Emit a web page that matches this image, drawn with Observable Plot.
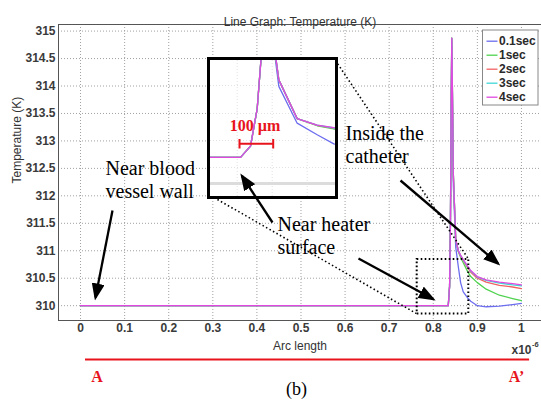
<!DOCTYPE html>
<html><head><meta charset="utf-8">
<script src="https://cdn.jsdelivr.net/npm/d3@7"></script>
<script src="https://cdn.jsdelivr.net/npm/@observablehq/plot@0.6"></script>
<style>
html,body{margin:0;padding:0;background:#fff;}
#wrap{position:relative;width:541px;height:403px;overflow:hidden;background:#fff;}
#wrap svg{display:block;}
#main{position:absolute;left:0;top:0;}
#inset{position:absolute;left:207px;top:57px;width:125px;height:136px;border:3px solid #000;background:#fff;overflow:hidden;}
#toplayer{position:absolute;left:0;top:0;pointer-events:none;}
</style></head><body>
<div id="wrap"><div id="main"></div><div id="inset"></div><div id="toplayer"></div></div>
<script>
// ---------------- data ----------------
const seriesNames = ["0.1sec", "1sec", "2sec", "3sec", "4sec"];
const seriesColors = ["#6c6cf0", "#4fd24f", "#f06262", "#3fd6d6", "#e048e0"];
const arcLength = [0, 0.834, 0.837, 0.839, 0.8405, 0.842, 0.8435, 0.8455, 0.851, 0.857, 0.862, 0.868, 0.878, 0.885, 0.9, 0.92, 0.95, 0.98, 1.0];
const temp01 = [310, 310, 310.35, 311.5, 313.5, 314.8, 313.8, 312.2, 311.06, 310.7, 310.42, 310.25, 310.14, 310.08, 310.0, 309.98, 309.99, 310.02, 310.04];
const temp1  = [310, 310, 310.35, 311.5, 313.5, 314.87, 313.9, 312.4, 311.2, 310.98, 310.88, 310.78, 310.62, 310.53, 310.42, 310.3, 310.19, 310.13, 310.09];
const temp2  = [310, 310, 310.35, 311.5, 313.5, 314.87, 313.9, 312.4, 311.2, 310.99, 310.9, 310.82, 310.69, 310.61, 310.5, 310.43, 310.37, 310.34, 310.31];
const temp3  = [310, 310, 310.35, 311.5, 313.5, 314.87, 313.9, 312.4, 311.2, 311.0, 310.91, 310.83, 310.71, 310.63, 310.52, 310.46, 310.41, 310.38, 310.36];
const temp4  = [310, 310, 310.35, 311.5, 313.5, 314.87, 313.9, 312.4, 311.2, 311.0, 310.92, 310.84, 310.72, 310.64, 310.53, 310.47, 310.43, 310.40, 310.38];
const xTicks = [0, 0.1, 0.2, 0.3, 0.4, 0.5, 0.6, 0.7, 0.8, 0.9, 1];
const xTickLabels = ["0", "0.1", "0.2", "0.3", "0.4", "0.5", "0.6", "0.7", "0.8", "0.9", "1"];
const yTicks = [310, 310.5, 311, 311.5, 312, 312.5, 313, 313.5, 314, 314.5, 315];
const yTickLabels = ["310", "310.5", "311", "311.5", "312", "312.5", "313", "313.5", "314", "314.5", "315"];
const titleText = "Line Graph: Temperature (K)";
const xLabel = "Arc length";
const yLabel = "Temperature (K)";
const noteTexts = ["Near blood\nvessel wall", "Near heater\nsurface", "Inside the\ncatheter"];
const scaleText = "100 µm";

// ---------------- layout ----------------
const rows = [];
[temp01, temp1, temp2, temp3, temp4].forEach((arr, i) =>
  arr.forEach((t, j) => rows.push({series: seriesNames[i], x: arcLength[j], t})));

const W = 541, H = 403, ML = 58, MR = 0, MT = 24, MB = 83;
const xDomain = [-0.05, 1.0455], yDomain = [309.73, 315.12];
const X = d3.scaleLinear(xDomain, [ML, W - MR]);
const Y = d3.scaleLinear(yDomain, [H - MB, MT]);
const px = v => X.invert(v), py = v => Y.invert(v);

const sans = "Liberation Sans, Arial, Helvetica, sans-serif";
const serif = "Liberation Serif, Times New Roman, serif";
const color = {domain: seriesNames, range: seriesColors};

const zoomBox = [{x1: px(416.7), x2: px(468.3), y1: py(313.5), y2: py(259)}];
const connectors = [
  {x1: px(210), y1: py(195), x2: px(416.7), y2: py(313.5)},
  {x1: px(335), y1: py(60), x2: px(468.3), y2: py(259)}
];
const notes = [
  {text: noteTexts[0], x: px(105), y: py(157.5)},
  {text: noteTexts[1], x: px(277), y: py(214)},
  {text: noteTexts[2], x: px(345), y: py(123)}
];
const arrows = [
  {x1: px(112), y1: py(210), x2: px(95), y2: py(297)},
  {x1: px(272), y1: py(222), x2: px(241.5), y2: py(175.5)},
  {x1: px(358), y1: py(258), x2: px(432.5), y2: py(298.5)},
  {x1: px(400), y1: py(180), x2: px(497.5), y2: py(263)}
];
const legendBox = [{x1: px(482.5), x2: px(538), y1: py(105), y2: py(30)}];
const legendRows = seriesNames.map((s, i) => ({series: s, y: py(40.7 + i * 14)}));

const mainPlot = Plot.plot({
  width: W, height: H,
  marginLeft: ML, marginRight: MR, marginTop: MT, marginBottom: MB,
  style: {fontFamily: sans, fontSize: "12px", color: "#333", background: "#fff", overflow: "visible"},
  x: {domain: xDomain, axis: null},
  y: {domain: yDomain, axis: null},
  color,
  marks: [
    Plot.ruleX(xTicks, {stroke: "#a0a0a0", strokeDasharray: "1,2"}),
    Plot.ruleY(yTicks, {stroke: "#a0a0a0", strokeDasharray: "1,2"}),
    Plot.line(rows, {x: "x", y: "t", z: "series", stroke: "series", strokeWidth: 1.3}),
    Plot.rect(zoomBox, {x1: "x1", x2: "x2", y1: "y1", y2: "y2", fill: "none", stroke: "#000", strokeWidth: 2, strokeDasharray: "1.6,2.4"}),
    Plot.link(connectors, {x1: "x1", y1: "y1", x2: "x2", y2: "y2", stroke: "#000", strokeWidth: 1.6, strokeDasharray: "1.5,2.5"}),
    Plot.frame({stroke: "#555"}),
    // legend
    Plot.rect(legendBox, {x1: "x1", x2: "x2", y1: "y1", y2: "y2", fill: "#fff", stroke: "#888"}),
    Plot.link(legendRows, {x1: () => px(486), x2: () => px(497), y1: "y", y2: "y", stroke: "series", strokeWidth: 1.3}),
    Plot.text(legendRows, {x: () => px(498.5), y: "y", text: "series", textAnchor: "start", fontWeight: "bold", fontSize: 12, fill: "#2a2a2a"}),
    // axes
    Plot.text(xTicks, {x: d => d, text: (d, i) => xTickLabels[i], frameAnchor: "bottom", dy: 11, fontWeight: "bold", fontSize: 12, fill: "#3a3a3a"}),
    Plot.text(yTicks, {y: d => d, text: (d, i) => yTickLabels[i], frameAnchor: "left", dx: -3, textAnchor: "end", fontWeight: "bold", fontSize: 12, fill: "#3a3a3a"}),
    Plot.text([titleText], {frameAnchor: "top", dy: -7, fontSize: 12, fill: "#333"}),
    Plot.text([xLabel], {frameAnchor: "bottom", dy: 29, fontSize: 12, fill: "#333"}),
    Plot.text([yLabel], {frameAnchor: "left", dx: -41, dy: 11, rotate: -90, fontSize: 12, fill: "#333"}),
    Plot.text(["x10"], {x: () => px(511), y: () => py(350), textAnchor: "start", fontWeight: "bold", fontSize: 12, fill: "#3a3a3a"}),
    Plot.text(["-6"], {x: () => px(531.5), y: () => py(344), textAnchor: "start", fontWeight: "bold", fontSize: 7.5, fill: "#3a3a3a"}),
    // A–A' line and labels
    Plot.link([{x1: px(84.5), x2: px(528.6), y: py(359)}], {x1: "x1", x2: "x2", y1: "y", y2: "y", stroke: "#e8141c", strokeWidth: 2}),
    Plot.text(["A"], {x: () => px(96.5), y: () => py(376), fontFamily: serif, fontWeight: "bold", fontSize: 16, fill: "#e8141c"}),
    Plot.text(["A’"], {x: () => px(516), y: () => py(376), fontFamily: serif, fontWeight: "bold", fontSize: 16, fill: "#e8141c"}),
    Plot.text(["(b)"], {x: () => px(296), y: () => py(389), fontFamily: serif, fontSize: 18, fill: "#000"}),
    // annotations
    Plot.text(notes, {x: "x", y: "y", text: "text", textAnchor: "start", lineAnchor: "top", lineHeight: 1.165, fontFamily: serif, fontSize: 20, fill: "#000"})
  ]
});
document.getElementById("main").appendChild(mainPlot);

// ---------------- inset (zoom of the heater region) ----------------
const IW = 125, IH = 136;
const insetX = [0.825, 0.8625], insetY = [308.79, 313.0];
const IX = d3.scaleLinear(insetX, [0, IW]), IY = d3.scaleLinear(insetY, [IH, 0]);
const ipx = v => IX.invert(v), ipy = v => IY.invert(v);
const insetPlot = Plot.plot({
  width: IW, height: IH, margin: 0,
  style: {background: "#fff", fontFamily: serif},
  x: {domain: insetX, axis: null},
  y: {domain: insetY, axis: null},
  color,
  marks: [
    Plot.ruleX([ipx(26.7), ipx(61.7), ipx(96.7)], {stroke: "#e2e2e2", strokeDasharray: "1,2"}),
    Plot.ruleY([ipy(25), ipy(53), ipy(80), ipy(107)], {stroke: "#e2e2e2", strokeDasharray: "1,2"}),
    Plot.ruleY([ipy(123)], {stroke: "#dcdcdc", strokeWidth: 3}),
    Plot.line(rows, {x: "x", y: "t", z: "series", stroke: "series", strokeWidth: 1.3, clip: true}),
    Plot.link([{x1: ipx(29), x2: ipx(62.7), y: ipy(83.3)}], {x1: "x1", x2: "x2", y1: "y", y2: "y", stroke: "#e8141c", strokeWidth: 2}),
    Plot.link([{x: ipx(29), y1: ipy(78.5), y2: ipy(88)}, {x: ipx(62.7), y1: ipy(78.5), y2: ipy(88)}], {x1: "x", x2: "x", y1: "y1", y2: "y2", stroke: "#e8141c", strokeWidth: 2}),
    Plot.text([scaleText], {x: () => ipx(44.5), y: () => ipy(65), fontFamily: serif, fontWeight: "bold", fontSize: 16, fill: "#e8141c"})
  ]
});
document.getElementById("inset").appendChild(insetPlot);

// ---------------- top layer: arrows ----------------
const arrowPlot = Plot.plot({
  width: W, height: H,
  marginLeft: ML, marginRight: MR, marginTop: MT, marginBottom: MB,
  style: {background: "transparent", overflow: "visible"},
  x: {domain: xDomain, axis: null},
  y: {domain: yDomain, axis: null},
  marks: [
    Plot.link(arrows, {x1: "x1", y1: "y1", x2: "x2", y2: "y2", stroke: "#000", strokeWidth: 2.3})
  ]
});
const sv = d3.select(arrowPlot);
sv.append("defs").append("marker")
  .attr("id", "tri").attr("viewBox", "0 0 17 13").attr("refX", 14).attr("refY", 6.5)
  .attr("markerWidth", 17).attr("markerHeight", 13).attr("markerUnits", "userSpaceOnUse").attr("orient", "auto")
  .append("path").attr("d", "M0,0L17,6.5L0,13Z").attr("fill", "#000");
sv.selectAll('g[aria-label="link"] path').attr("marker-end", "url(#tri)");
document.getElementById("toplayer").appendChild(arrowPlot);
</script>
</body></html>
